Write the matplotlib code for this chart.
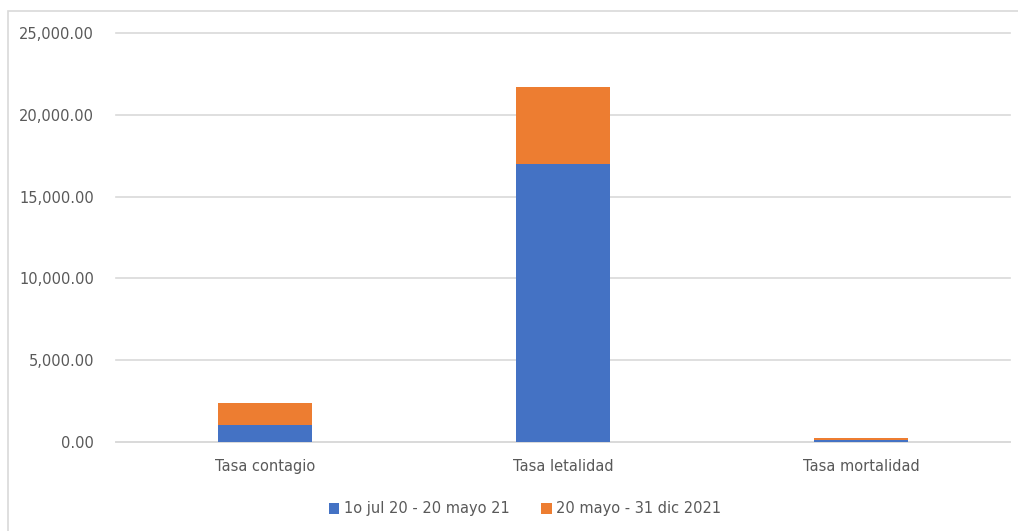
import matplotlib
matplotlib.use("Agg")
import matplotlib.pyplot as plt
from matplotlib.patches import Rectangle
from matplotlib.ticker import FuncFormatter, MultipleLocator

# data
categories = ["Tasa contagio", "Tasa letalidad", "Tasa mortalidad"]
series_names = ["1o jul 20 - 20 mayo 21", "20 mayo - 31 dic 2021"]
periodo_1 = [1050, 17000, 110]
periodo_2 = [1350, 4700, 110]

blue = "#4472C4"
orange = "#ED7D31"
text_col = "#595959"
grid_col = "#D9D9D9"

plt.rcParams["font.family"] = "DejaVu Sans"
plt.rcParams["font.size"] = 10.5

fig = plt.figure(figsize=(10.18, 5.31), dpi=100)
ax = fig.add_axes([0.114, 0.1676, 0.878, 0.7703])

x = range(len(categories))
ax.bar(x, periodo_1, width=0.315, color=blue, label=series_names[0], zorder=3)
ax.bar(x, periodo_2, width=0.315, bottom=periodo_1, color=orange,
       label=series_names[1], zorder=3)

ax.set_xlim(-0.5, len(categories) - 0.5)
ax.set_ylim(0, 25000)
ax.yaxis.set_major_locator(MultipleLocator(5000))
ax.yaxis.set_major_formatter(FuncFormatter(lambda v, p: f"{v:,.2f}"))
ax.grid(axis="y", color=grid_col, linewidth=1.2, zorder=0)
for gl in ax.get_ygridlines():
    gl.set_clip_on(False)
ax.set_axisbelow(True)

for s in ["top", "right", "left"]:
    ax.spines[s].set_visible(False)
ax.spines["bottom"].set_color(grid_col)
ax.spines["bottom"].set_linewidth(1.2)

ax.set_xticks(list(x))
ax.set_xticklabels(categories, color=text_col)
ax.tick_params(axis="x", length=0, pad=12)
ax.tick_params(axis="y", length=0, pad=16, colors=text_col)

leg = fig.legend(loc="center", bbox_to_anchor=(525 / 1018, 1 - 509 / 531),
                 ncol=2, frameon=False, handlelength=0.7, handleheight=0.7,
                 handletextpad=0.3, columnspacing=2.2)
for t in leg.get_texts():
    t.set_color(text_col)

# light chart-area border like the spreadsheet export
fig.patches.append(Rectangle((8 / 1018, -0.1), 1.2, 1.1 - 11 / 531,
                             transform=fig.transFigure, fill=False,
                             edgecolor=grid_col, linewidth=1.2))

fig.savefig("out.png", dpi=100, facecolor="white")
